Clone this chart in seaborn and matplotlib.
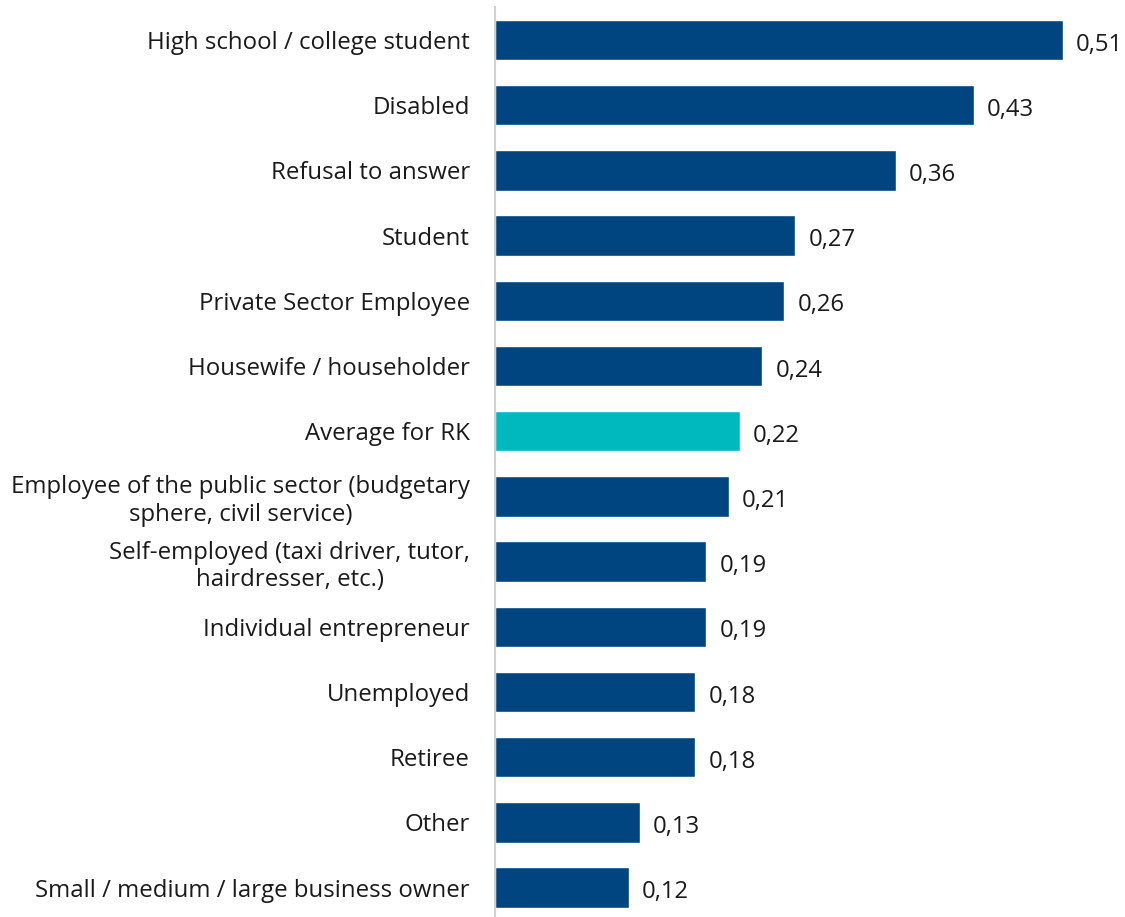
import matplotlib
matplotlib.use('Agg')

import pandas as pd
import seaborn as sns
import matplotlib.pyplot as plt

categories = [
    "High school / college student",
    "Disabled",
    "Refusal to answer",
    "Student",
    "Private Sector Employee",
    "Housewife / householder",
    "Average for RK",
    "Employee of the public sector (budgetary\nsphere, civil service)",
    "Self-employed (taxi driver, tutor,\nhairdresser, etc.)",
    "Individual entrepreneur",
    "Unemployed",
    "Retiree",
    "Other",
    "Small / medium / large business owner",
]
values = [0.51, 0.43, 0.36, 0.27, 0.26, 0.24, 0.22, 0.21, 0.19, 0.19, 0.18, 0.18, 0.13, 0.12]
groups = ["avg" if c == "Average for RK" else "group" for c in categories]

df = pd.DataFrame({"category": categories, "value": values, "kind": groups})

sns.set_style("white")
plt.rcParams['font.family'] = ['Open Sans', 'DejaVu Sans']

fig = plt.figure(figsize=(11.25, 9.17), dpi=100)
ax = fig.add_axes([0.44, 0.0, 0.554, 0.992])

sns.barplot(
    data=df, x="value", y="category", hue="kind",
    palette={"group": "#004580", "avg": "#00B9BE"},
    saturation=1, dodge=False, width=0.62, legend=False, ax=ax
)

ax.set_xlim(0, 0.56)
ax.set_ylim(13.45, -0.5)
ax.set_xlabel("")
ax.set_ylabel("")
ax.set_xticks([])
for side in ["top", "right", "bottom"]:
    ax.spines[side].set_visible(False)
ax.spines["left"].set_color("#d0d0d0")
ax.spines["left"].set_linewidth(1.5)

ax.tick_params(axis="y", length=0, pad=18, labelsize=17.3, labelcolor="#1a1a1a")
for lbl in ax.get_yticklabels():
    lbl.set_multialignment("center")
    lbl.set_linespacing(1.2)

for i, v in enumerate(values):
    ax.text(v + 0.012, i + 0.07, "{:.2f}".format(v).replace(".", ","),
            va="center", ha="left", fontsize=17.2, color="#1a1a1a", clip_on=False)

plt.savefig("out.png", dpi=100)
